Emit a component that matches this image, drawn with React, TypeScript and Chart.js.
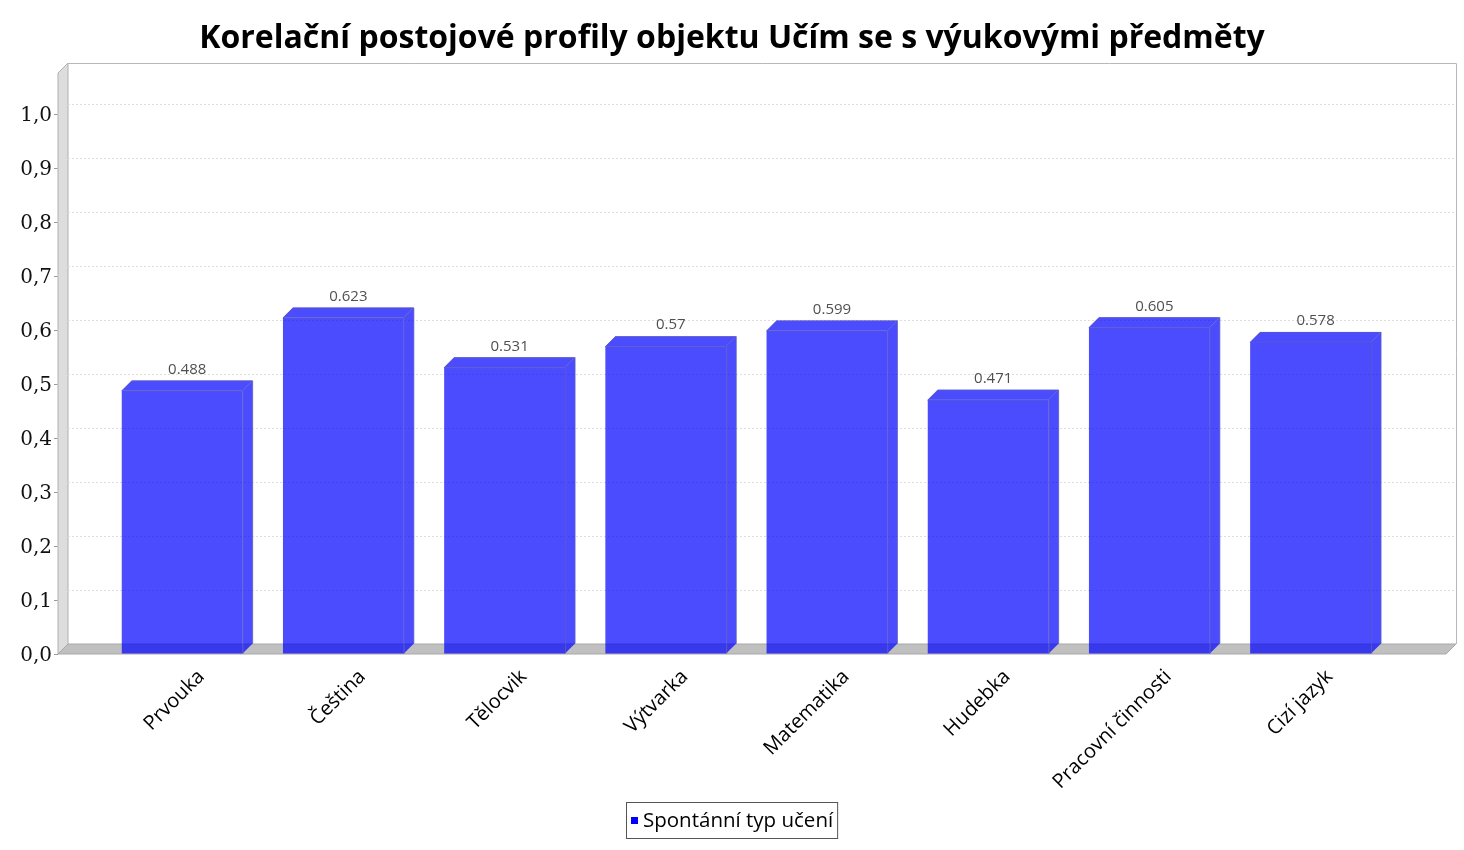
import React, { useEffect, useRef } from "react";
import { Chart, registerables } from "chart.js";

Chart.register(...registerables);

const TITLE = "Korelační postojové profily objektu Učím se s výukovými předměty";
const SERIES_LABEL = "Spontánní typ učení";
const categories = [
  "Prvouka",
  "Čeština",
  "Tělocvik",
  "Výtvarka",
  "Matematika",
  "Hudebka",
  "Pracovní činnosti",
  "Cizí jazyk",
];
const values = [0.488, 0.623, 0.531, 0.57, 0.599, 0.471, 0.605, 0.578];
const yTicks = [0, 0.1, 0.2, 0.3, 0.4, 0.5, 0.6, 0.7, 0.8, 0.9, 1.0];
const Y_MAX = 1.076;
const X_MIN = -0.7705;
const X_MAX = 7.84;

const DEPTH = 10;
const BAR_FILL = "rgba(0,0,255,0.7)";
const BAR_EDGE = "rgba(90,90,190,0.75)";

const plot3d = {
  id: "plot3d",
  beforeDatasetsDraw(chart: any) {
    const { ctx, chartArea: a, scales } = chart;
    const y = scales.y;
    const D = DEPTH;
    ctx.save();
    // left wall
    ctx.beginPath();
    ctx.moveTo(a.left, a.top);
    ctx.lineTo(a.left + D, a.top - D);
    ctx.lineTo(a.left + D, a.bottom - D);
    ctx.lineTo(a.left, a.bottom);
    ctx.closePath();
    ctx.fillStyle = "#dddddd";
    ctx.fill();
    ctx.strokeStyle = "#b0b0b0";
    ctx.lineWidth = 1;
    ctx.stroke();
    // floor
    ctx.beginPath();
    ctx.moveTo(a.left, a.bottom);
    ctx.lineTo(a.left + D, a.bottom - D);
    ctx.lineTo(a.right + D, a.bottom - D);
    ctx.lineTo(a.right, a.bottom);
    ctx.closePath();
    ctx.fillStyle = "#c0c0c0";
    ctx.fill();
    ctx.strokeStyle = "#a8a8a8";
    ctx.stroke();
    // back outline
    ctx.beginPath();
    ctx.moveTo(a.left + D, a.top - D + 0.5);
    ctx.lineTo(a.right + D + 0.5, a.top - D + 0.5);
    ctx.lineTo(a.right + D + 0.5, a.bottom - D);
    ctx.strokeStyle = "#b8b8b8";
    ctx.stroke();
    // gridlines on back wall
    ctx.setLineDash([2, 2]);
    ctx.strokeStyle = "#dedede";
    yTicks.forEach((v) => {
      if (v === 0) return;
      const py = Math.round(y.getPixelForValue(v)) + 0.5;
      ctx.beginPath();
      ctx.moveTo(a.left + D, py - D);
      ctx.lineTo(a.right + D, py - D);
      ctx.stroke();
      ctx.beginPath();
      ctx.moveTo(a.left, py);
      ctx.lineTo(a.left + D, py - D);
      ctx.stroke();
    });
    ctx.restore();
  },
  afterDatasetsDraw(chart: any) {
    const { ctx } = chart;
    const D = DEPTH;
    const meta = chart.getDatasetMeta(0);
    ctx.save();
    meta.data.forEach((bar: any, i: number) => {
      const { x, y, base, width } = bar.getProps(["x", "y", "base", "width"], true);
      const l = x - width / 2;
      const r = x + width / 2;
      ctx.fillStyle = BAR_FILL;
      ctx.strokeStyle = BAR_EDGE;
      ctx.lineWidth = 1;
      // top face
      ctx.beginPath();
      ctx.moveTo(l, y);
      ctx.lineTo(l + D, y - D);
      ctx.lineTo(r + D, y - D);
      ctx.lineTo(r, y);
      ctx.closePath();
      ctx.fill();
      // side face
      ctx.beginPath();
      ctx.moveTo(r, y);
      ctx.lineTo(r + D, y - D);
      ctx.lineTo(r + D, base - D);
      ctx.lineTo(r, base);
      ctx.closePath();
      ctx.fill();
      // edges
      ctx.beginPath();
      ctx.moveTo(l, y + 0.5);
      ctx.lineTo(l + D, y - D + 0.5);
      ctx.lineTo(r + D, y - D + 0.5);
      ctx.lineTo(r + D, base - D);
      ctx.moveTo(l, y + 0.5);
      ctx.lineTo(r, y + 0.5);
      ctx.lineTo(r + D, y - D + 0.5);
      ctx.moveTo(r + 0.5, y);
      ctx.lineTo(r + 0.5, base);
      ctx.stroke();
      // value label
      ctx.fillStyle = "#505050";
      ctx.font = "15px 'Open Sans'";
      ctx.textAlign = "center";
      ctx.textBaseline = "middle";
      ctx.fillText(String(values[i]), x + D / 2, y - D - 11);
    });
    ctx.restore();
  },
  afterDraw(chart: any) {
    const { ctx } = chart;
    ctx.save();
    // title
    ctx.fillStyle = "#000000";
    ctx.font = "bold 32px 'Open Sans'";
    ctx.textAlign = "center";
    ctx.textBaseline = "alphabetic";
    ctx.fillText(TITLE, chart.width / 2, 48);
    // legend
    ctx.font = "20.5px 'Open Sans'";
    const tw = ctx.measureText(SERIES_LABEL).width;
    const bw = 5 + 7 + 5 + tw + 4;
    const bh = 36;
    const bx = Math.round(chart.width / 2 - bw / 2) + 0.5;
    const by = chart.height - 48 + 0.5;
    ctx.fillStyle = "#ffffff";
    ctx.fillRect(bx, by, bw, bh);
    ctx.strokeStyle = "#555555";
    ctx.lineWidth = 1;
    ctx.strokeRect(bx, by, bw, bh);
    ctx.fillStyle = "#0000ff";
    ctx.fillRect(bx + 4.5, by + 14.5, 7, 7);
    ctx.fillStyle = "#000000";
    ctx.textAlign = "left";
    ctx.textBaseline = "middle";
    ctx.fillText(SERIES_LABEL, bx + 16.5, by + bh / 2 + 1);
    ctx.restore();
  },
};

export default function App() {
  const ref = useRef<HTMLCanvasElement | null>(null);
  useEffect(() => {
    if (!ref.current) return;
    const chart = new Chart(ref.current, {
      type: "bar",
      data: {
        datasets: [
          {
            label: SERIES_LABEL,
            data: values.map((v, i) => ({ x: i, y: v })),
            backgroundColor: BAR_FILL,
            borderWidth: 0,
            barPercentage: 0.75,
            categoryPercentage: 1,
          },
        ],
      },
      options: {
        animation: false,
        responsive: false,
        layout: { padding: { top: 73, right: 18, left: 0, bottom: 0 } },
        plugins: {
          legend: { display: false },
          title: { display: false },
          tooltip: { enabled: false },
        },
        scales: {
          x: {
            type: "linear",
            min: X_MIN,
            max: X_MAX,
            offset: false,
            grid: { display: false, drawTicks: false },
            border: { display: false },
            afterBuildTicks: (scale: any) => {
              scale.ticks = categories.map((_, i) => ({ value: i }));
            },
            afterFit: (scale: any) => {
              scale.height = 196;
            },
            ticks: {
              autoSkip: false,
              minRotation: 45,
              maxRotation: 45,
              padding: 11,
              labelOffset: 19,
              color: "#000000",
              font: { family: "'Open Sans'", size: 20 },
              callback: (v: any) => categories[Math.round(Number(v))] ?? "",
            },
          },
          y: {
            min: 0,
            max: Y_MAX,
            grid: {
              display: true,
              drawOnChartArea: false,
              drawTicks: true,
              tickLength: 4,
              color: "#999999",
            },
            border: { display: false },
            afterBuildTicks: (scale: any) => {
              scale.ticks = yTicks.map((v) => ({ value: v }));
            },
            afterFit: (scale: any) => {
              scale.width = 58;
            },
            ticks: {
              padding: 2,
              labelOffset: 2,
              color: "#111111",
              font: { family: "'DejaVu Serif'", size: 20 },
              callback: (v: any) => Number(v).toFixed(1).replace(".", ","),
            },
          },
        },
      },
      plugins: [plot3d],
    });
    return () => chart.destroy();
  }, []);
  return (
    <div style={{ position: "absolute", left: 0, top: 0, width: 1464, height: 850, background: "#fff" }}>
      <canvas ref={ref} width={1464} height={850} style={{ display: "block" }} />
    </div>
  );
}
